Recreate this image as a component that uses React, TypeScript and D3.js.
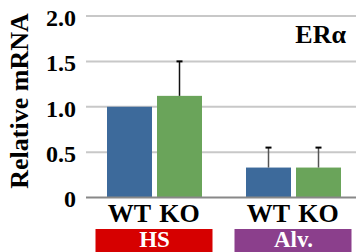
import React from "react";
import * as d3 from "d3";

const groups = ["HS", "Alv."];
const genotypes = ["WT", "KO"];
const wtValues = [1.0, 0.33];
const koValues = [1.12, 0.33];
const wtErr = [0, 0.22];
const koErr = [0.38, 0.22];
const yTicks = [0, 0.5, 1.0, 1.5, 2.0];
const yTickLabels = ["0", "0.5", "1.0", "1.5", "2.0"];
const groupColors = ["#d60000", "#8b3f8c"];
const barColors = ["#3d6a9b", "#6aa45a"];

const W = 357;
const H = 252;
const serif = "'Liberation Serif', serif";

export default function App() {
  const y = d3.scaleLinear().domain([0, 2]).range([197.5, 16]);
  const x0 = d3.scaleBand<string>().domain(groups).range([85, 363]).padding(0);
  const x1 = d3.scaleBand<string>().domain(genotypes).range([0, 95]).paddingInner(0.1);
  const plotLeft = 86;
  const plotRight = 356;
  const series = [wtValues, koValues];
  const errs = [wtErr, koErr];
  const txt = { fontFamily: serif, fontWeight: "bold" as const };

  return (
    <svg width={W} height={H} style={{ position: "absolute", left: 0, top: 0, background: "#fff" }}>
      {yTicks.map((t, i) => (
        <g key={i}>
          {t !== 0 && (
            <line x1={plotLeft} x2={plotRight} y1={y(t)} y2={y(t)} stroke="#c8c8c8" strokeWidth={2} />
          )}
          <text x={76} y={y(t) + 1.5} dy="0.35em" textAnchor="end" style={{ ...txt, fontSize: 24 }} fill="#000">
            {yTickLabels[i]}
          </text>
        </g>
      ))}
      <text
        transform={`translate(28,${(10 + 192) / 2}) rotate(-90)`}
        textAnchor="middle"
        style={{ ...txt, fontSize: 26 }}
        fill="#000"
      >
        Relative mRNA
      </text>
      <text x={346} y={43} textAnchor="end" style={{ ...txt, fontSize: 26 }} fill="#000">
        ERα
      </text>
      {groups.map((g, gi) => {
        const gx = (x0(g) as number) + x0.bandwidth() / 2 - 47.5;
        return (
          <g key={g}>
            {genotypes.map((gt, si) => {
              const v = series[si][gi];
              const e = errs[si][gi];
              const bx = gx + (x1(gt) as number);
              const cx = bx + x1.bandwidth() / 2;
              return (
                <g key={gt}>
                  <rect x={bx} y={y(v)} width={x1.bandwidth()} height={y(0) - y(v)} fill={barColors[si]} />
                  {e > 0 && (
                    <g>
                      <line x1={cx} x2={cx} y1={y(v)} y2={y(v + e)} stroke={gi === 0 ? "#111" : "#555"} strokeWidth={1.5} />
                      <line x1={cx - 3} x2={cx + 3} y1={y(v + e)} y2={y(v + e)} stroke="#000" strokeWidth={2} />
                    </g>
                  )}
                  <text x={cx} y={222} textAnchor="middle" style={{ ...txt, fontSize: 26 }} fill="#000">
                    {gt}
                  </text>
                </g>
              );
            })}
            <rect
              x={(x0(g) as number) + x0.bandwidth() / 2 - 59}
              y={229}
              width={117}
              height={23}
              fill={groupColors[gi]}
            />
            <text
              x={(x0(g) as number) + x0.bandwidth() / 2}
              y={247}
              textAnchor="middle"
              style={{ ...txt, fontSize: 23 }}
              fill="#fff"
            >
              {g}
            </text>
          </g>
        );
      })}
      <line x1={plotLeft} x2={plotRight} y1={y(0)} y2={y(0)} stroke="#888" strokeWidth={2} />
    </svg>
  );
}
